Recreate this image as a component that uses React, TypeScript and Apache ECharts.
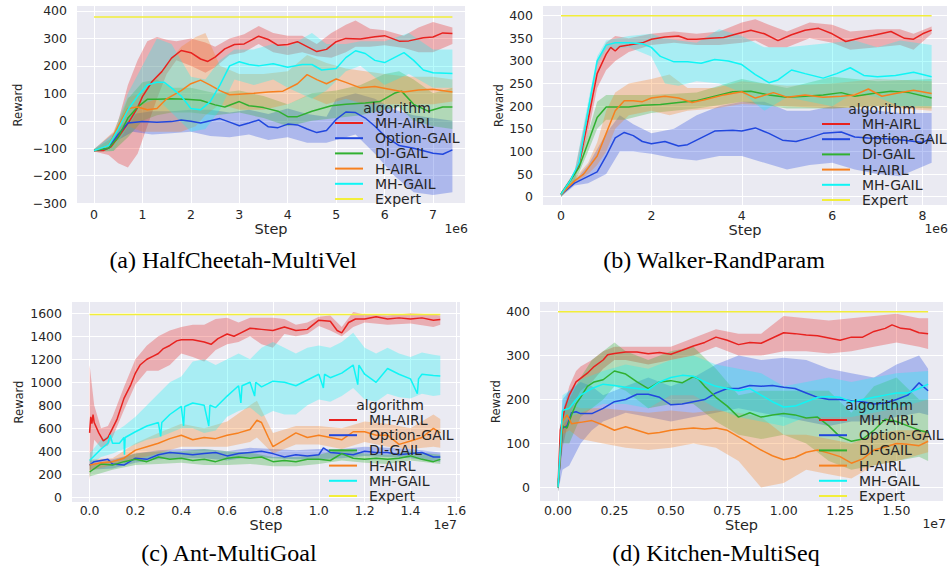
import React, { useEffect, useRef } from "react";
import * as echarts from "echarts";

const ALGORITHMS = ["MH-AIRL", "Option-GAIL", "DI-GAIL", "H-AIRL", "MH-GAIL", "Expert"];
const LINE_COLORS = ["#e8221f", "#2147de", "#30b030", "#f7801f", "#10f5f5", "#f2ee3a"];
const BAND_COLORS = [
  "rgba(232,34,31,0.3)",
  "rgba(33,71,222,0.3)",
  "rgba(48,176,48,0.3)",
  "rgba(247,128,31,0.3)",
  "rgba(16,245,245,0.3)",
];
const CAPTIONS = ["(a) HalfCheetah-MultiVel", "(b) Walker-RandParam", "(c) Ant-MultiGoal", "(d) Kitchen-MultiSeq"];
const OFFSET_TEXTS = ["1e6", "1e6", "1e7", "1e7"];

// ---------- (a) HalfCheetah-MultiVel ----------
const aXTicks = [0, 1, 2, 3, 4, 5, 6, 7];
const aYTicks = [-300, -200, -100, 0, 100, 200, 300, 400];
const aMhAirl = [[0,-108],[0.2,-108],[0.35,-95],[0.5,-60],[0.7,-10],[0.9,48],[1.0,88],[1.2,143],[1.4,179],[1.6,228],[1.8,256],[2.0,248],[2.2,225],[2.35,216],[2.5,232],[2.7,262],[2.9,278],[3.1,280],[3.4,308],[3.6,296],[3.8,275],[4.0,278],[4.2,288],[4.4,270],[4.6,252],[4.8,260],[5.0,288],[5.2,300],[5.5,298],[5.8,306],[6.0,310],[6.3,290],[6.5,291],[6.8,302],[7.0,305],[7.2,320],[7.4,318]];
const aMhAirlBand = [[0,-112,-104],[0.3,-125,-95],[0.5,-155,0],[0.7,-170,130],[0.9,-120,220],[1.1,-20,290],[1.3,80,305],[1.5,170,295],[1.7,220,290],[2.0,200,300],[2.3,175,285],[2.5,195,270],[2.8,240,300],[3.1,250,315],[3.4,280,345],[3.7,250,320],[4.0,240,310],[4.3,250,310],[4.6,235,280],[4.9,230,320],[5.2,250,350],[5.4,270,365],[5.7,270,335],[6.0,275,330],[6.4,265,310],[6.7,250,340],[7.0,250,360],[7.4,280,340]];
const aOptionGail = [[0,-108],[0.3,-100],[0.5,-50],[0.7,-8],[1.0,-3],[1.3,-5],[1.6,-3],[1.8,3],[2.0,-2],[2.2,-8],[2.4,0],[2.6,8],[2.8,-5],[3.0,-18],[3.2,-8],[3.4,3],[3.6,-22],[3.8,-25],[4.0,-12],[4.2,-15],[4.4,-30],[4.6,-43],[4.8,-35],[5.0,5],[5.2,32],[5.4,30],[5.6,10],[5.8,-20],[6.0,-55],[6.3,-90],[6.6,-100],[7.0,-118],[7.2,-122],[7.4,-106]];
const aOptionGailBand = [[0,-112,-104],[0.5,-70,-30],[0.8,-40,25],[1.2,-50,35],[1.6,-45,35],[2.0,-40,40],[2.4,-55,40],[2.8,-60,30],[3.2,-50,40],[3.6,-70,25],[4.0,-60,45],[4.4,-80,25],[4.8,-80,15],[5.0,-70,80],[5.4,-50,100],[5.8,-120,80],[6.2,-200,40],[6.6,-260,20],[7.0,-270,10],[7.4,-260,0]];
const aDiGail = [[0,-108],[0.3,-100],[0.5,-60],[0.7,10],[0.9,50],[1.1,78],[1.3,78],[1.6,80],[1.9,78],[2.2,75],[2.5,58],[2.7,50],[3.0,70],[3.2,55],[3.5,48],[3.8,35],[4.0,15],[4.2,15],[4.5,35],[4.9,55],[5.2,60],[5.6,65],[5.9,70],[6.2,100],[6.35,108],[6.6,60],[6.9,35],[7.2,50],[7.4,50]];
const aDiGailBand = [[0,-112,-104],[0.4,-110,-60],[0.7,-60,80],[1.0,0,140],[1.3,20,150],[1.6,30,120],[2.0,30,120],[2.5,20,100],[3.0,30,110],[3.5,10,90],[4.0,-20,60],[4.5,0,100],[5.0,10,110],[5.5,20,130],[6.0,40,170],[6.3,50,180],[6.6,0,150],[7.0,-20,100],[7.4,-30,120]];
const aHAirl = [[0,-108],[0.3,-90],[0.5,-20],[0.7,45],[0.9,50],[1.1,40],[1.3,45],[1.5,80],[1.8,110],[2.0,135],[2.2,148],[2.4,130],[2.6,110],[2.8,95],[3.0,97],[3.3,100],[3.6,105],[3.9,108],[4.2,135],[4.4,168],[4.6,150],[4.8,135],[5.0,152],[5.2,140],[5.5,120],[5.8,125],[6.1,115],[6.4,105],[6.7,112],[7.0,115],[7.4,105]];
const aHAirlBand = [[0,-112,-104],[0.4,-110,-40],[0.7,-20,85],[1.0,-40,100],[1.4,-40,180],[1.8,-40,270],[2.1,-20,305],[2.3,20,320],[2.6,60,200],[3.0,40,170],[3.5,40,170],[4.0,60,180],[4.4,90,240],[4.8,60,210],[5.2,80,190],[5.6,60,180],[6.0,60,170],[6.5,60,160],[7.0,60,160],[7.4,70,150]];
const aMhGail = [[0,-108],[0.3,-90],[0.5,-30],[0.7,40],[0.9,90],[1.1,130],[1.3,140],[1.45,140],[1.6,120],[1.8,90],[2.0,45],[2.2,40],[2.4,70],[2.6,130],[2.8,200],[3.0,215],[3.2,205],[3.4,200],[3.7,208],[4.0,195],[4.3,205],[4.5,205],[4.7,185],[5.0,190],[5.2,230],[5.4,255],[5.6,245],[5.8,220],[6.0,212],[6.2,230],[6.4,248],[6.6,220],[6.8,185],[7.0,175],[7.4,172]];
const aMhGailBand = [[0,-112,-104],[0.4,-110,-50],[0.7,-20,100],[1.0,60,200],[1.3,80,300],[1.6,30,280],[2.0,-40,160],[2.3,-30,150],[2.6,40,220],[2.9,150,260],[3.3,130,260],[3.7,150,280],[4.0,120,270],[4.5,80,320],[4.8,110,280],[5.2,180,280],[5.5,200,290],[6.0,130,290],[6.5,170,320],[7.0,120,260],[7.4,120,260]];
const aExpert = [[0,378],[7.4,378]];

// ---------- (b) Walker-RandParam ----------
const bXTicks = [0, 2, 4, 6, 8];
const bYTicks = [0, 50, 100, 150, 200, 250, 300, 350, 400];
const bMhAirl = [[0,5],[0.2,35],[0.4,70],[0.6,170],[0.8,272],[1.0,315],[1.1,330],[1.2,322],[1.3,332],[1.5,335],[1.8,340],[2.0,348],[2.3,353],[2.6,355],[2.8,348],[3.0,348],[3.3,350],[3.6,352],[3.9,360],[4.2,368],[4.5,360],[4.8,345],[5.1,358],[5.4,368],[5.7,372],[6.0,360],[6.3,343],[6.6,350],[6.9,356],[7.3,365],[7.6,350],[7.8,348],[8.0,360],[8.2,368]];
const bMhAirlBand = [[0,0,10],[0.3,35,55],[0.6,140,200],[0.8,240,300],[1.0,280,340],[1.2,300,355],[1.5,320,350],[2.0,335,360],[2.5,340,365],[3.0,335,360],[3.5,335,365],[4.0,340,385],[4.3,345,392],[4.6,330,380],[5.0,330,365],[5.5,350,385],[6.0,340,380],[6.4,325,365],[7.0,330,370],[7.5,335,370],[7.8,325,360],[8.2,360,376]];
const bOptionGail = [[0,5],[0.3,30],[0.5,40],[0.8,55],[1.0,90],[1.2,130],[1.4,142],[1.6,135],[1.8,122],[2.0,117],[2.3,122],[2.6,112],[2.8,115],[3.1,130],[3.4,145],[3.8,147],[4.0,145],[4.3,152],[4.6,140],[4.9,125],[5.2,122],[5.5,130],[5.8,140],[6.2,143],[6.5,132],[6.8,130],[7.2,128],[7.6,125],[8.0,120],[8.2,130]];
const bOptionGailBand = [[0,0,10],[0.3,25,35],[0.6,30,70],[1.0,50,140],[1.3,100,180],[1.6,100,160],[2.0,95,140],[2.5,85,150],[3.0,80,180],[3.5,90,200],[4.0,90,210],[4.5,75,210],[5.0,60,190],[5.5,70,190],[6.0,75,200],[6.5,60,195],[7.0,50,190],[7.5,45,185],[8.2,75,185]];
const bDiGail = [[0,5],[0.2,35],[0.4,65],[0.6,120],[0.8,175],[1.0,198],[1.2,198],[1.5,198],[1.8,202],[2.2,204],[2.6,208],[3.0,212],[3.4,222],[3.8,232],[4.2,233],[4.6,225],[5.0,220],[5.4,222],[5.8,225],[6.2,230],[6.5,222],[6.9,228],[7.3,233],[7.7,230],[8.2,218]];
const bDiGailBand = [[0,0,10],[0.3,30,50],[0.6,100,140],[0.8,150,210],[1.0,170,225],[1.4,170,225],[2.0,185,225],[3.0,195,230],[4.0,210,260],[5.0,195,240],[6.0,195,265],[7.0,200,255],[8.2,195,260]];
const bHAirl = [[0,5],[0.3,35],[0.5,50],[0.8,90],[1.0,140],[1.2,190],[1.4,212],[1.6,212],[1.8,210],[2.0,218],[2.3,222],[2.6,218],[2.9,208],[3.2,215],[3.6,225],[4.0,232],[4.3,218],[4.7,230],[5.0,220],[5.4,225],[5.8,220],[6.2,222],[6.5,225],[6.8,238],[7.1,222],[7.4,228],[7.8,235],[8.2,228]];
const bHAirlBand = [[0,0,10],[0.3,30,40],[0.6,50,75],[0.8,70,120],[1.0,100,190],[1.2,150,230],[1.5,180,250],[2.0,190,260],[2.4,180,270],[2.8,190,240],[3.4,195,240],[4.0,205,255],[5.0,200,245],[6.0,195,250],[7.0,200,260],[8.2,190,255]];
const bMhGail = [[0,5],[0.2,35],[0.4,75],[0.6,190],[0.8,300],[1.0,335],[1.2,340],[1.5,340],[1.8,338],[2.0,330],[2.2,310],[2.5,298],[2.8,298],[3.1,295],[3.4,303],[3.7,300],[4.0,292],[4.3,270],[4.6,252],[4.8,258],[5.1,280],[5.4,272],[5.8,262],[6.1,272],[6.4,285],[6.7,268],[7.0,265],[7.4,268],[7.8,275],[8.2,265]];
const bMhGailBand = [[0,0,10],[0.3,35,55],[0.6,170,210],[0.8,290,310],[1.0,325,345],[1.5,330,355],[2.0,310,360],[2.3,250,350],[2.6,245,345],[3.0,255,340],[3.5,250,370],[4.0,230,355],[4.5,190,330],[5.0,220,330],[5.5,210,335],[6.0,200,340],[6.5,230,345],[7.0,220,330],[7.5,200,345],[8.2,200,335]];
const bExpert = [[0,400],[8.2,400]];

// ---------- (c) Ant-MultiGoal ----------
const cXTicks = [0, 0.2, 0.4, 0.6, 0.8, 1.0, 1.2, 1.4, 1.6];
const cYTicks = [0, 200, 400, 600, 800, 1000, 1200, 1400, 1600];
const cMhAirl = [[0,560],[0.005,700],[0.01,640],[0.015,720],[0.02,650],[0.04,560],[0.06,490],[0.08,520],[0.1,600],[0.12,680],[0.15,860],[0.18,980],[0.2,1080],[0.22,1150],[0.25,1200],[0.28,1230],[0.3,1250],[0.32,1290],[0.35,1320],[0.38,1360],[0.4,1370],[0.45,1370],[0.5,1350],[0.53,1330],[0.56,1380],[0.6,1420],[0.63,1400],[0.66,1430],[0.7,1470],[0.75,1460],[0.8,1450],[0.85,1480],[0.9,1450],[0.95,1460],[1.0,1540],[1.05,1530],[1.08,1450],[1.1,1430],[1.13,1520],[1.16,1550],[1.2,1550],[1.25,1570],[1.3,1550],[1.35,1560],[1.4,1550],[1.45,1560],[1.5,1540],[1.53,1545]];
const cMhAirlBand = [[0,150,1150],[0.02,500,800],[0.05,430,600],[0.08,450,620],[0.1,520,700],[0.15,760,960],[0.2,980,1200],[0.25,1100,1320],[0.3,1100,1400],[0.35,1150,1450],[0.4,1250,1480],[0.45,1220,1500],[0.5,1180,1500],[0.55,1280,1550],[0.6,1330,1560],[0.65,1350,1520],[0.7,1400,1560],[0.75,1330,1560],[0.8,1300,1560],[0.85,1420,1550],[0.9,1400,1500],[0.95,1420,1520],[1.0,1490,1570],[1.05,1450,1580],[1.1,1400,1480],[1.15,1480,1610],[1.2,1520,1590],[1.3,1500,1580],[1.4,1510,1600],[1.5,1480,1590],[1.53,1500,1580]];
const cOptionGail = [[0,280],[0.02,310],[0.05,320],[0.08,330],[0.1,290],[0.15,280],[0.2,340],[0.25,330],[0.3,370],[0.35,390],[0.4,380],[0.45,370],[0.5,380],[0.55,390],[0.6,360],[0.65,380],[0.7,390],[0.75,400],[0.8,380],[0.85,350],[0.9,370],[0.95,360],[1.0,370],[1.02,430],[1.05,390],[1.1,380],[1.15,370],[1.2,400],[1.25,390],[1.3,390],[1.35,370],[1.4,380],[1.45,390],[1.5,350],[1.53,350]];
const cOptionGailBand = [[0,240,320],[0.1,250,330],[0.2,300,380],[0.3,330,410],[0.4,340,420],[0.5,340,420],[0.6,320,400],[0.7,350,430],[0.8,340,420],[0.9,330,410],[1.0,330,420],[1.1,340,420],[1.2,360,440],[1.3,350,430],[1.4,340,420],[1.53,310,390]];
const cDiGail = [[0,220],[0.05,290],[0.1,280],[0.15,310],[0.2,330],[0.25,310],[0.3,350],[0.35,330],[0.4,340],[0.45,320],[0.5,330],[0.55,310],[0.6,340],[0.65,350],[0.7,340],[0.75,350],[0.8,310],[0.85,320],[0.9,310],[0.95,330],[1.0,330],[1.05,320],[1.1,380],[1.15,340],[1.2,330],[1.25,340],[1.3,330],[1.35,340],[1.4,360],[1.45,330],[1.5,310],[1.53,330]];
const cDiGailBand = [[0,180,280],[0.1,240,320],[0.2,280,380],[0.3,290,400],[0.4,300,400],[0.5,280,420],[0.6,280,400],[0.7,290,390],[0.8,270,350],[0.9,270,350],[1.0,290,370],[1.1,320,420],[1.2,300,380],[1.3,290,370],[1.4,320,400],[1.53,290,370]];
const cHAirl = [[0,280],[0.05,300],[0.1,310],[0.15,340],[0.2,410],[0.25,440],[0.3,470],[0.35,510],[0.4,540],[0.45,500],[0.5,520],[0.55,510],[0.6,540],[0.65,560],[0.7,590],[0.73,670],[0.75,650],[0.78,520],[0.8,440],[0.85,500],[0.9,560],[0.95,520],[1.0,540],[1.05,520],[1.1,500],[1.15,570],[1.2,570],[1.25,540],[1.3,540],[1.35,460],[1.4,490],[1.45,520],[1.5,600],[1.53,560]];
const cHAirlBand = [[0,230,330],[0.1,280,340],[0.2,330,470],[0.3,380,560],[0.4,440,640],[0.5,440,600],[0.6,440,660],[0.7,480,800],[0.73,520,840],[0.8,380,560],[0.9,460,620],[1.0,460,620],[1.1,420,600],[1.2,480,660],[1.3,440,640],[1.4,420,600],[1.5,440,720],[1.53,430,680]];
const cMhGail = [[0,320],[0.05,420],[0.08,470],[0.09,540],[0.1,470],[0.13,470],[0.15,520],[0.152,370],[0.155,520],[0.2,570],[0.25,620],[0.3,650],[0.31,530],[0.315,650],[0.35,720],[0.4,790],[0.41,620],[0.415,790],[0.45,820],[0.5,800],[0.52,620],[0.525,800],[0.55,780],[0.6,880],[0.65,970],[0.66,820],[0.665,970],[0.7,1000],[0.72,880],[0.725,1000],[0.75,960],[0.8,1010],[0.85,1000],[0.9,970],[0.95,1020],[1.0,1070],[1.02,950],[1.025,1070],[1.05,1040],[1.1,1080],[1.15,1150],[1.17,980],[1.175,1150],[1.2,1070],[1.25,1000],[1.3,1120],[1.35,1070],[1.4,1030],[1.43,900],[1.435,1030],[1.45,1070],[1.5,1060],[1.53,1055]];
const cMhGailBand = [[0,280,380],[0.05,350,500],[0.1,380,560],[0.15,420,620],[0.2,460,700],[0.25,500,800],[0.3,520,900],[0.35,560,1000],[0.4,600,1050],[0.45,600,1180],[0.5,560,1200],[0.55,580,1150],[0.6,700,1200],[0.65,750,1250],[0.7,780,1200],[0.75,700,1300],[0.8,750,1350],[0.85,720,1300],[0.9,720,1250],[0.95,800,1300],[1.0,850,1320],[1.05,830,1300],[1.1,880,1350],[1.15,950,1430],[1.2,850,1300],[1.25,830,1250],[1.3,900,1300],[1.35,870,1250],[1.4,860,1220],[1.45,900,1260],[1.5,880,1240],[1.53,890,1230]];
const cExpert = [[0,1590],[1.53,1590]];

// ---------- (d) Kitchen-MultiSeq ----------
const dXTicks = [0, 0.25, 0.5, 0.75, 1.0, 1.25, 1.5];
const dYTicks = [0, 100, 200, 300, 400];
const dMhAirl = [[0,0],[0.01,130],[0.03,180],[0.05,210],[0.08,240],[0.1,248],[0.13,260],[0.16,275],[0.2,290],[0.22,302],[0.25,305],[0.3,308],[0.35,308],[0.4,304],[0.45,307],[0.5,303],[0.55,312],[0.6,322],[0.65,330],[0.7,342],[0.75,335],[0.8,325],[0.85,330],[0.9,328],[0.95,340],[1.0,352],[1.05,350],[1.1,347],[1.15,345],[1.2,340],[1.25,335],[1.3,342],[1.35,342],[1.4,355],[1.45,362],[1.48,370],[1.52,362],[1.56,360],[1.6,352],[1.64,350]];
const dMhAirlBand = [[0,-10,10],[0.02,90,170],[0.05,160,230],[0.08,200,265],[0.1,220,275],[0.15,240,290],[0.2,270,310],[0.25,290,320],[0.3,290,320],[0.4,280,320],[0.5,290,320],[0.6,300,340],[0.7,320,360],[0.8,300,350],[0.9,300,350],[1.0,310,390],[1.1,310,385],[1.2,305,380],[1.3,310,385],[1.4,320,390],[1.5,330,395],[1.6,320,385],[1.64,315,385]];
const dOptionGail = [[0,0],[0.02,135],[0.04,140],[0.06,170],[0.08,172],[0.1,168],[0.15,168],[0.2,180],[0.25,195],[0.3,200],[0.35,212],[0.4,212],[0.45,205],[0.5,188],[0.55,190],[0.6,195],[0.65,200],[0.7,215],[0.75,225],[0.8,225],[0.85,232],[0.9,230],[0.95,232],[1.0,228],[1.05,225],[1.1,215],[1.15,205],[1.2,200],[1.25,200],[1.3,197],[1.35,195],[1.4,190],[1.45,192],[1.5,200],[1.55,210],[1.6,238],[1.64,220]];
const dOptionGailBand = [[0,-10,10],[0.02,40,200],[0.05,50,220],[0.1,100,240],[0.15,130,230],[0.2,150,210],[0.3,170,230],[0.4,160,250],[0.5,150,230],[0.6,160,250],[0.7,170,280],[0.8,180,300],[0.9,170,290],[1.0,160,295],[1.1,150,290],[1.2,140,270],[1.3,150,260],[1.4,150,250],[1.5,160,280],[1.6,170,300],[1.64,165,270]];
const dDiGail = [[0,0],[0.02,140],[0.04,135],[0.06,165],[0.08,190],[0.1,205],[0.13,230],[0.16,240],[0.2,245],[0.25,265],[0.3,258],[0.35,240],[0.4,225],[0.45,240],[0.5,243],[0.55,238],[0.6,252],[0.62,248],[0.65,230],[0.7,205],[0.75,185],[0.8,160],[0.85,170],[0.9,160],[0.95,165],[1.0,168],[1.05,165],[1.1,158],[1.15,160],[1.2,140],[1.25,115],[1.3,105],[1.35,110],[1.4,130],[1.45,155],[1.5,150],[1.55,140],[1.6,130],[1.64,125]];
const dDiGailBand = [[0,-10,10],[0.02,100,170],[0.05,100,200],[0.1,160,250],[0.15,180,290],[0.2,200,310],[0.25,230,330],[0.3,220,310],[0.4,180,290],[0.5,190,310],[0.6,190,320],[0.7,150,270],[0.8,120,210],[0.9,110,220],[1.0,120,220],[1.1,100,220],[1.2,60,220],[1.3,40,170],[1.4,50,230],[1.5,60,250],[1.6,70,200],[1.64,60,200]];
const dHAirl = [[0,0],[0.02,150],[0.04,165],[0.06,145],[0.1,148],[0.15,152],[0.2,142],[0.25,130],[0.3,138],[0.35,130],[0.4,122],[0.45,125],[0.5,130],[0.55,133],[0.6,135],[0.65,133],[0.7,135],[0.75,130],[0.8,115],[0.85,100],[0.9,85],[0.95,72],[1.0,63],[1.05,68],[1.1,80],[1.15,85],[1.2,78],[1.25,70],[1.3,55],[1.35,65],[1.4,85],[1.45,92],[1.5,100],[1.55,98],[1.6,95],[1.64,105]];
const dHAirlBand = [[0,-10,10],[0.02,120,175],[0.05,130,190],[0.1,110,180],[0.2,100,180],[0.3,90,175],[0.4,85,170],[0.5,90,175],[0.6,100,170],[0.7,90,175],[0.8,60,170],[0.9,0,160],[1.0,10,120],[1.1,40,120],[1.2,30,110],[1.3,20,100],[1.4,50,120],[1.5,60,130],[1.64,80,130]];
const dMhGail = [[0,0],[0.02,175],[0.05,180],[0.08,200],[0.1,210],[0.15,225],[0.2,235],[0.25,232],[0.3,228],[0.35,225],[0.4,222],[0.45,240],[0.5,250],[0.55,255],[0.6,253],[0.65,240],[0.7,230],[0.75,225],[0.8,220],[0.85,225],[0.9,210],[0.95,195],[1.0,183],[1.05,185],[1.1,195],[1.15,205],[1.2,207],[1.25,205],[1.3,195],[1.35,200],[1.4,205],[1.45,210],[1.5,215],[1.55,215],[1.6,225],[1.64,235]];
const dMhGailBand = [[0,-10,10],[0.02,140,210],[0.05,160,220],[0.1,170,245],[0.2,190,265],[0.3,190,280],[0.4,180,270],[0.5,210,290],[0.6,210,300],[0.7,180,280],[0.8,160,270],[0.9,150,260],[1.0,140,230],[1.1,160,240],[1.2,160,250],[1.3,160,240],[1.4,170,250],[1.5,180,260],[1.64,200,265]];
const dExpert = [[0,400],[1.64,400]];

const minusFmt = (v: number) => String(v).replace("-", "\u2212");

const PANELS = [
  {
    lines: [aMhAirl, aOptionGail, aDiGail, aHAirl, aMhGail, aExpert],
    bands: [aMhAirlBand, aOptionGailBand, aDiGailBand, aHAirlBand, aMhGailBand],
    xTicks: aXTicks, yTicks: aYTicks, xFmt: minusFmt, yFmt: minusFmt,
    grid: { left: 77, top: 6, width: 388, height: 198 },
    xMin: -0.351, xMax: 7.66, yMin: -303, yMax: 418,
    xMargin: 4, xNameGap: 15, yNameGap: 53,
    legend: { left: 335, top: 115.5 }, title: [397, 108], offset: [468, 228], caption: [233, 260],
  },
  {
    lines: [bMhAirl, bOptionGail, bDiGail, bHAirl, bMhGail, bExpert],
    bands: [bMhAirlBand, bOptionGailBand, bDiGailBand, bHAirlBand, bMhGailBand],
    xTicks: bXTicks, yTicks: bYTicks, xFmt: minusFmt, yFmt: minusFmt,
    grid: { left: 543, top: 6, width: 404, height: 199 },
    xMin: -0.398, xMax: 8.54, yMin: -18.3, yMax: 421.4,
    xMargin: 4, xNameGap: 16, yNameGap: 38,
    legend: { left: 822, top: 116.5 }, title: [882, 109], offset: [948, 228], caption: [714, 260],
  },
  {
    lines: [cMhAirl, cOptionGail, cDiGail, cHAirl, cMhGail, cExpert],
    bands: [cMhAirlBand, cOptionGailBand, cDiGailBand, cHAirlBand, cMhGailBand],
    xTicks: cXTicks, yTicks: cYTicks, xFmt: (v: number) => v.toFixed(1), yFmt: minusFmt,
    grid: { left: 72, top: 302, width: 388, height: 200 },
    xMin: -0.0768, xMax: 1.616, yMin: -40.8, yMax: 1698,
    xMargin: 2, xNameGap: 14, yNameGap: 47,
    legend: { left: 329, top: 412.5 }, title: [390, 405], offset: [457, 524], caption: [229, 553],
  },
  {
    lines: [dMhAirl, dOptionGail, dDiGail, dHAirl, dMhGail, dExpert],
    bands: [dMhAirlBand, dOptionGailBand, dDiGailBand, dHAirlBand, dMhGailBand],
    xTicks: dXTicks, yTicks: dYTicks, xFmt: (v: number) => v.toFixed(2), yFmt: minusFmt,
    grid: { left: 540, top: 302, width: 403, height: 199 },
    xMin: -0.0798, xMax: 1.706, yMin: -31, yMax: 422,
    xMargin: 3, xNameGap: 14, yNameGap: 38,
    legend: { left: 819, top: 412.5 }, title: [879, 405], offset: [946, 523], caption: [716, 553],
  },
];

const TEXT = "#262626";
const FONT = "DejaVu Sans";

function bandSeries(idx: number, band: number[][], color: string) {
  return {
    type: "custom",
    xAxisIndex: idx,
    yAxisIndex: idx,
    data: band,
    encode: { x: 0, y: [1, 2] },
    clip: true,
    silent: true,
    z: 2,
    renderItem: (params: any, api: any) => {
      if (params.dataIndex !== 0) return null;
      const upper = band.map((d) => api.coord([d[0], d[2]]));
      const lower = band.map((d) => api.coord([d[0], d[1]])).reverse();
      return {
        type: "polygon",
        shape: { points: upper.concat(lower) },
        style: { fill: color },
      };
    },
  };
}

function buildOption() {
  const series: any[] = [];
  PANELS.forEach((p, i) => {
    p.bands.forEach((b, k) => series.push(bandSeries(i, b, BAND_COLORS[k])));
  });
  PANELS.forEach((p, i) => {
    p.lines.forEach((l, k) =>
      series.push({
        type: "line",
        name: ALGORITHMS[k],
        xAxisIndex: i,
        yAxisIndex: i,
        data: l,
        showSymbol: false,
        symbol: "none",
        color: LINE_COLORS[k],
        lineStyle: { color: LINE_COLORS[k], width: 1.5 },
        z: 3,
        silent: true,
      })
    );
  });

  const graphic: any[] = [];
  PANELS.forEach((p, i) => {
    graphic.push({
      type: "text",
      x: p.title[0],
      y: p.title[1],
      style: { text: "algorithm", fill: TEXT, font: `14px "${FONT}"`, textAlign: "center", textVerticalAlign: "middle", align: "center", verticalAlign: "middle" },
      z: 10,
    });
    graphic.push({
      type: "text",
      x: p.offset[0],
      y: p.offset[1],
      style: { text: OFFSET_TEXTS[i], fill: TEXT, font: `12.5px "${FONT}"`, textAlign: "right", textVerticalAlign: "middle", align: "right", verticalAlign: "middle" },
      z: 10,
    });
    graphic.push({
      type: "text",
      x: p.caption[0],
      y: p.caption[1],
      style: { text: CAPTIONS[i], fill: "#000", font: `24px "Liberation Serif"`, textAlign: "center", textVerticalAlign: "middle", align: "center", verticalAlign: "middle" },
      z: 10,
    });
  });

  return {
    animation: false,
    backgroundColor: "#ffffff",
    grid: PANELS.map((p) => ({ ...p.grid, show: true, backgroundColor: "#eaeaf2", borderWidth: 0, containLabel: false })),
    xAxis: PANELS.map((p, i) => ({
      gridIndex: i,
      type: "value",
      min: p.xMin,
      max: p.xMax,
      axisLine: { show: false },
      axisTick: { show: false, customValues: p.xTicks },
      axisLabel: { customValues: p.xTicks, formatter: p.xFmt, color: TEXT, fontSize: 12.5, fontFamily: FONT, margin: p.xMargin },
      splitLine: { show: true, lineStyle: { color: "#ffffff", width: 1 } },
      name: "Step",
      nameLocation: "middle",
      nameGap: p.xNameGap,
      nameTextStyle: { color: TEXT, fontSize: 14.5, fontFamily: FONT },
    })),
    yAxis: PANELS.map((p, i) => ({
      gridIndex: i,
      type: "value",
      min: p.yMin,
      max: p.yMax,
      axisLine: { show: false },
      axisTick: { show: false, customValues: p.yTicks },
      axisLabel: { customValues: p.yTicks, formatter: p.yFmt, color: TEXT, fontSize: 12.5, fontFamily: FONT, margin: 10 },
      splitLine: { show: true, lineStyle: { color: "#ffffff", width: 1 } },
      name: "Reward",
      nameLocation: "middle",
      nameGap: p.yNameGap,
      nameTextStyle: { color: TEXT, fontSize: 11.5, fontFamily: FONT },
    })),
    legend: PANELS.map((p) => ({
      orient: "vertical",
      left: p.legend.left,
      top: p.legend.top,
      padding: 0,
      itemGap: 0.2,
      itemWidth: 28,
      itemHeight: 2,
      icon: "rect",
      selectedMode: false,
      textStyle: { color: TEXT, fontSize: 14, fontFamily: FONT, lineHeight: 15, padding: [0, 0, 0, 7] },
      data: ALGORITHMS,
      z: 10,
    })),
    graphic,
    series,
  };
}

export default function App() {
  const ref = useRef<HTMLDivElement>(null);
  useEffect(() => {
    if (!ref.current) return;
    const chart = echarts.init(ref.current, null, { renderer: "svg" });
    chart.setOption(buildOption() as any);
    return () => chart.dispose();
  }, []);
  return (
    <div
      ref={ref}
      style={{ position: "fixed", left: 0, top: 0, width: 950, height: 572, background: "#ffffff" }}
    />
  );
}
